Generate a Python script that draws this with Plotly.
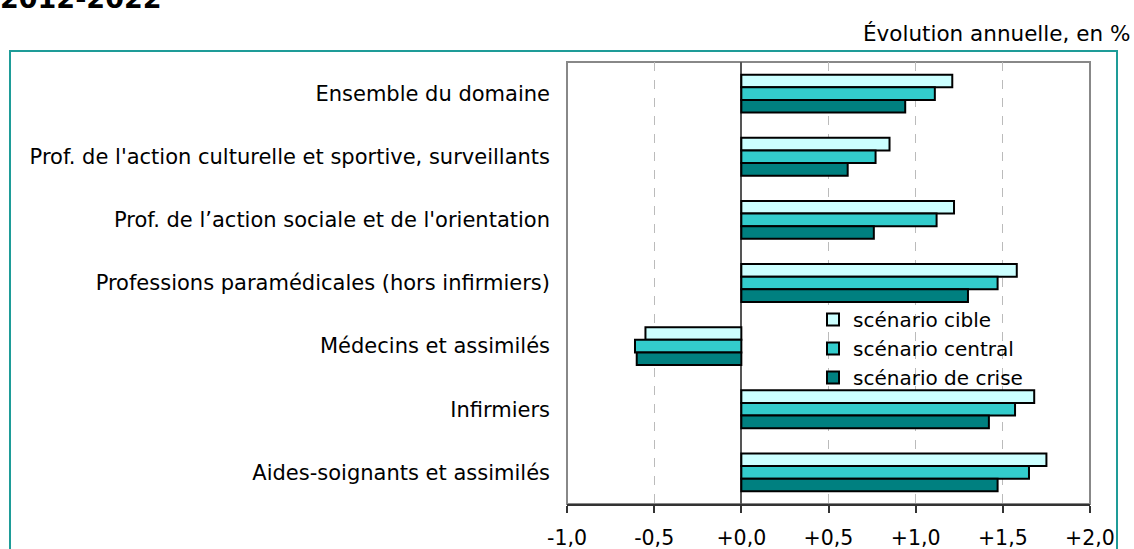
import plotly.graph_objects as go

categories = [
    "Ensemble du domaine",
    "Prof. de l'action culturelle et sportive, surveillants",
    "Prof. de l\u2019action sociale et de l'orientation",
    "Professions paramédicales (hors infirmiers)",
    "Médecins et assimilés",
    "Infirmiers",
    "Aides-soignants et assimilés",
]
cible = [1.21, 0.85, 1.22, 1.58, -0.55, 1.68, 1.75]
central = [1.11, 0.77, 1.12, 1.47, -0.61, 1.57, 1.65]
crise = [0.94, 0.61, 0.76, 1.30, -0.60, 1.42, 1.47]
series_names = ["scénario cible", "scénario central", "scénario de crise"]
series_colors = ["#CCFFFF", "#33CCCC", "#008080"]
tick_vals = [-1.0, -0.5, 0.0, 0.5, 1.0, 1.5, 2.0]
tick_text = ["-1,0", "-0,5", "+0,0", "+0,5", "+1,0", "+1,5", "+2,0"]

W, H = 1134, 549
ML, MR, MT, MB = 567, 44, 62, 45
PW, PH = W - ML - MR, H - MT - MB


def px_x(p):
    return (p - ML) / PW


def px_y(p):
    return (H - MB - p) / PH


FONT = "DejaVu Sans"
FS = 21
fig = go.Figure()
for name, vals, col in zip(series_names, [cible, central, crise], series_colors):
    fig.add_trace(go.Bar(
        y=categories, x=vals, orientation="h", name=name,
        marker=dict(color=col, line=dict(color="#000000", width=2)),
    ))

fig.update_layout(
    width=W, height=H, autosize=False,
    margin=dict(l=ML, r=MR, t=MT, b=MB, pad=0, autoexpand=False),
    paper_bgcolor="white", plot_bgcolor="white",
    barmode="group", bargap=0.4, bargroupgap=0,
    font=dict(family=FONT, size=FS, color="#000000"),
    showlegend=True,
    legend=dict(
        x=px_x(813), y=px_y(300), xanchor="left", yanchor="top",
        bgcolor="rgba(0,0,0,0)", font=dict(family=FONT, size=20),
        traceorder="normal",
    ),
    xaxis=dict(
        range=[-1.0, 2.0], tickvals=tick_vals, ticktext=tick_text,
        showgrid=True, gridcolor="#BBBBBB", griddash="dash", gridwidth=1.2,
        zeroline=True, zerolinecolor="#555555", zerolinewidth=1.5,
        showline=True, linecolor="#333333", linewidth=1.5,
        ticks="outside", ticklen=7, tickcolor="#333333", tickwidth=1.5,
        ticklabelstandoff=8, automargin=False,
        tickfont=dict(family=FONT, size=20.5),
        fixedrange=True,
    ),
    yaxis=dict(
        autorange="reversed", showgrid=False, zeroline=False,
        ticks="", ticklabelstandoff=16, automargin=False,
        tickfont=dict(family=FONT, size=FS),
        fixedrange=True,
    ),
    shapes=[
        dict(type="rect", xref="paper", yref="paper", x0=0, x1=1, y0=0, y1=1,
             line=dict(color="#888888", width=2), layer="below"),
        dict(type="rect", xref="paper", yref="paper",
             x0=px_x(10), x1=px_x(1117), y0=px_y(600), y1=px_y(51),
             line=dict(color="#1E9C98", width=2), layer="below"),
    ],
    annotations=[
        dict(text="<b>2012-2022</b>", xref="paper", yref="paper",
             x=px_x(-2), y=px_y(16), xanchor="left", yanchor="bottom",
             showarrow=False, font=dict(family=FONT, size=27, color="#000000")),
        dict(text="Évolution annuelle, en %", xref="paper", yref="paper",
             x=px_x(1132), y=px_y(33), xanchor="right", yanchor="middle",
             showarrow=False, font=dict(family=FONT, size=21.5, color="#000000")),
    ],
)

fig.write_html(
    "out.html",
    config={"displayModeBar": False},
    post_script="document.body.style.margin='0';document.body.style.overflow='hidden';",
)
